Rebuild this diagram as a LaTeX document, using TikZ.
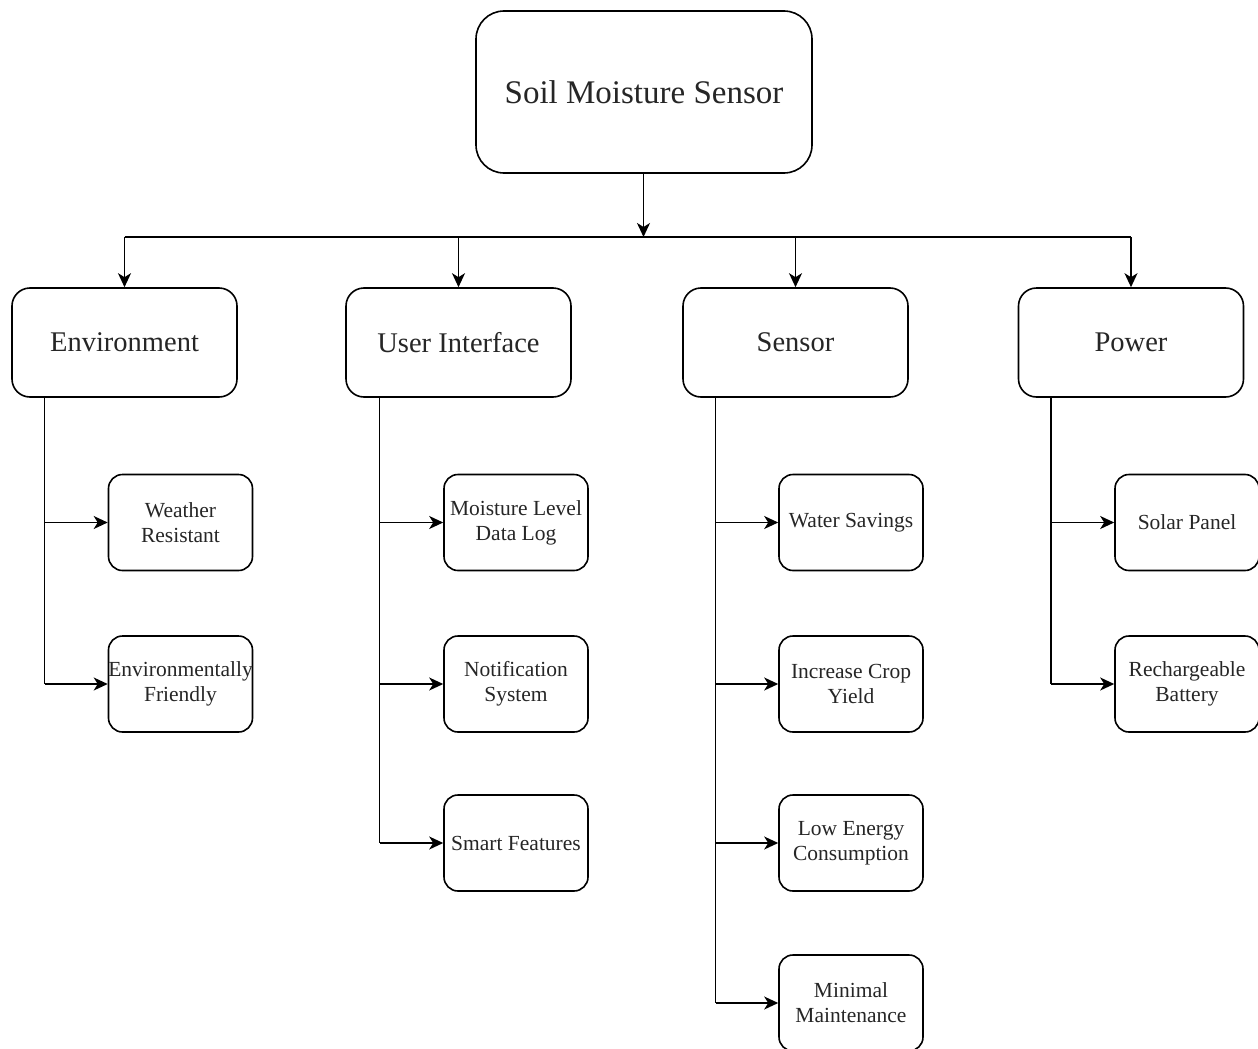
\documentclass[tikz,border=0pt]{standalone}
\usepackage{fontspec}
\setmainfont{Liberation Serif}
\usetikzlibrary{arrows.meta}

\tikzset{
  box/.style={draw, line width=1.6pt, fill=white, inner sep=0pt},
  rootbox/.style={box, rounded corners=28pt, minimum width=336pt, minimum height=162pt},
  catbox/.style={box, rounded corners=18pt, minimum width=225pt, minimum height=109pt},
  leafbox/.style={box, rounded corners=14pt, minimum width=144pt, minimum height=96pt},
  rootlbl/.style={font=\fontsize{33}{38}\selectfont, text=black!85},
  catlbl/.style={font=\fontsize{28.5}{33}\selectfont, text=black!85},
  leaflbl/.style={font=\fontsize{21.5}{25}\selectfont, text=black!85, align=center},
  wire/.style={line width=1.7pt},
  arr/.style={wire, -{Stealth[length=14pt, width=13pt, inset=4pt]}},
}

\begin{document}
\begin{tikzpicture}[x=1pt, y=-1pt]
  \useasboundingbox (0,0) rectangle (1258,1049);

  % root
  \node[rootbox, label={[rootlbl]center:Soil Moisture Sensor}] (root) at (644,92) {};

  % categories
  \node[catbox, label={[catlbl]center:Environment}]    (env)  at (124.5,342.5) {};
  \node[catbox, label={[catlbl]center:User Interface}] (ui)   at (458.5,342.5) {};
  \node[catbox, label={[catlbl]center:Sensor}]         (sen)  at (795.5,342.5) {};
  \node[catbox, label={[catlbl]center:Power}]          (pow)  at (1131,342.5) {};

  % environment leaves
  \node[leafbox, label={[leaflbl]center:Weather\\Resistant}]           (env1) at (180.5,522.5) {};
  \node[leafbox, label={[leaflbl]center:Environmentally\\Friendly}]    (env2) at (180.5,684) {};

  % user interface leaves
  \node[leafbox, label={[leaflbl]center:Moisture Level\\Data Log}]     (ui1) at (516,522.5) {};
  \node[leafbox, label={[leaflbl]center:Notification\\System}]         (ui2) at (516,684) {};
  \node[leafbox, label={[leaflbl]center:Smart Features}]               (ui3) at (516,843) {};

  % sensor leaves
  \node[leafbox, label={[leaflbl]center:Water Savings}]                (sen1) at (851,522.5) {};
  \node[leafbox, label={[leaflbl]center:Increase Crop\\Yield}]         (sen2) at (851,684) {};
  \node[leafbox, label={[leaflbl]center:Low Energy\\Consumption}]      (sen3) at (851,843) {};
  \node[leafbox, label={[leaflbl]center:Minimal\\Maintenance}]         (sen4) at (851,1003) {};

  % power leaves
  \node[leafbox, label={[leaflbl]center:Solar Panel}]                  (pow1) at (1187,522.5) {};
  \node[leafbox, label={[leaflbl]center:Rechargeable\\Battery}]        (pow2) at (1187,684) {};

  % root to categories
  \coordinate (bus) at (643.5,237);
  \draw[arr] (root.south -| bus) -- (bus);
  \draw[wire] (bus -| env.north) -- (bus -| pow.north);
  \foreach \c in {env, ui, sen, pow}
    \draw[arr] (bus -| \c.north) -- (\c.north);

  % categories to leaves
  \draw[wire] ([xshift=-80pt]env.south) -- ([xshift=-80pt]env.south |- env2.west);
  \foreach \l in {env1, env2}
    \draw[arr] ([xshift=-80pt]env.south |- \l.west) -- (\l.west);

  \draw[wire] ([xshift=-79pt]ui.south) -- ([xshift=-79pt]ui.south |- ui3.west);
  \foreach \l in {ui1, ui2, ui3}
    \draw[arr] ([xshift=-79pt]ui.south |- \l.west) -- (\l.west);

  \draw[wire] ([xshift=-80pt]sen.south) -- ([xshift=-80pt]sen.south |- sen4.west);
  \foreach \l in {sen1, sen2, sen3, sen4}
    \draw[arr] ([xshift=-80pt]sen.south |- \l.west) -- (\l.west);

  \draw[wire] ([xshift=-80pt]pow.south) -- ([xshift=-80pt]pow.south |- pow2.west);
  \foreach \l in {pow1, pow2}
    \draw[arr] ([xshift=-80pt]pow.south |- \l.west) -- (\l.west);
\end{tikzpicture}
\end{document}
